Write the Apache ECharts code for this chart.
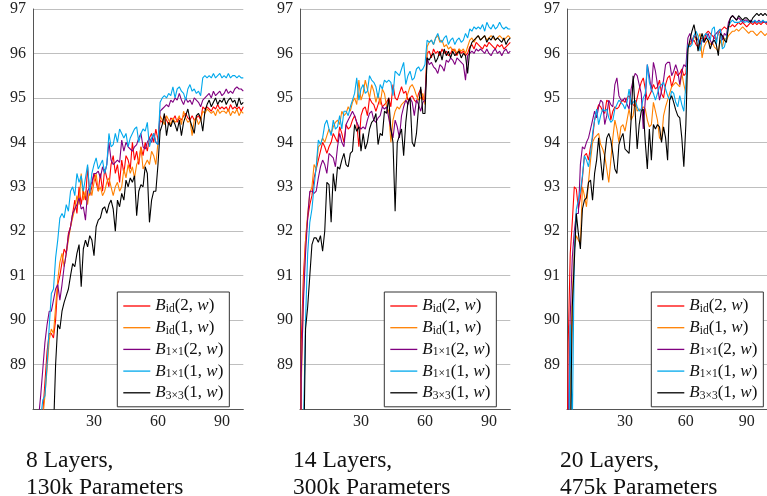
<!DOCTYPE html>
<html><head><meta charset="utf-8">
<script src="https://cdn.jsdelivr.net/npm/echarts@6/dist/echarts.min.js"></script>
<style>html,body{margin:0;padding:0;background:#fff}#c{width:767px;height:496px}</style>
</head><body><div id="c"></div>
<script>
// epochs 1..100 (x positions)
const epochs = Array.from({length: 100}, (_, i) => i + 1);
const seriesNames = ['Bid2', 'Bid1', 'B1x1_2', 'B1x1_1', 'B3x3_1'];
const xTickLabels = [30, 60, 90];
const yTickLabels = [89, 90, 91, 92, 93, 94, 95, 96, 97];
const panelTitles = ['8 Layers,\n130k Parameters', '14 Layers,\n300k Parameters', '20 Layers,\n475k Parameters'];

// ---- Panel 1: 8 layers ----
const p1Bid2 = [80,84,86,87,87.5,87.9,88.6,89.3,89.7,89.7,
 89.6,90.0,90.8,91.0,91.3,91.6,91.5,91.95,92.1,92.4,
 92.7,92.4,93.0,92.6,92.9,92.7,93.45,92.8,93.0,93.3,
 93.1,92.9,93.3,92.9,93.4,93.2,93.0,93.5,93.7,93.3,
 93.5,93.1,93.6,93.3,93.7,93.6,93.4,94.0,93.6,93.8,
 93.5,93.9,93.7,94.0,93.8,94.1,94.2,94.0,94.3,94.05,
 94.5,94.45,94.6,94.5,94.4,94.55,94.5,94.6,94.45,94.55,
 94.5,94.6,94.65,94.55,94.5,94.6,94.5,94.55,94.6,94.5,
 94.8,94.75,94.8,94.75,94.7,94.8,94.75,94.85,94.75,94.8,
 94.75,94.8,94.7,94.85,94.75,94.8,94.75,94.8,94.7,94.8];
const p1Bid1 = [79,83,85.5,86.8,87.4,87.8,88.3,88.9,89.55,89.8,
 89.7,90.3,90.9,91.3,91.5,91.2,91.5,91.8,92.1,92.3,
 92.5,92.8,92.6,93.3,92.7,92.9,92.6,93.0,92.8,93.1,
 93.3,92.9,93.0,92.8,92.9,93.1,93.2,93.0,92.8,93.0,
 93.1,92.9,93.0,93.4,93.2,93.5,93.3,93.45,93.2,93.5,
 93.6,93.9,93.4,93.5,93.6,93.5,93.8,93.7,93.5,94.0,
 94.6,94.5,94.4,94.6,94.5,94.4,94.55,94.45,94.5,94.6,
 94.4,94.7,94.55,94.45,94.5,94.15,94.5,94.55,94.4,94.5,
 94.7,94.65,94.75,94.7,94.65,94.7,94.6,94.75,94.65,94.7,
 94.7,94.65,94.75,94.6,94.7,94.65,94.75,94.6,94.7,94.65];
const p1B1x1_2 = [81,85,87,87.8,88.3,88.9,89.5,89.9,90.2,90.2,
 90.45,90.7,90.8,90.45,90.8,91.2,91.5,91.9,92.1,92.4,
 92.5,92.6,92.75,92.5,92.55,92.25,92.9,93.0,93.1,93.3,
 93.3,93.35,93.2,93.45,93.3,93.5,94.0,93.6,93.5,93.55,
 93.6,93.55,94.05,93.8,94.0,93.9,93.85,93.8,93.9,93.95,
 94.1,94.2,93.9,93.85,94.0,94.1,94.0,94.2,94.0,93.95,
 94.7,94.75,94.8,94.85,94.8,94.95,94.9,95.0,94.95,95.1,
 94.95,94.85,95.0,94.9,94.95,94.85,95.0,94.95,94.9,94.8,
 94.95,95.0,95.05,95.1,95.0,95.15,95.05,95.1,95.15,95.05,
 95.1,95.2,95.1,95.15,95.1,95.2,95.25,95.2,95.2,95.15];
const p1B1x1_1 = [80,84,86,87.2,87.8,88.2,88.3,89.0,89.85,90.6,
 90.7,91.4,91.8,92.3,92.4,92.3,92.6,92.45,92.9,93.0,
 92.8,93.3,93.1,93.25,92.9,93.2,93.5,92.85,93.3,93.5,
 93.65,93.4,93.5,93.6,93.3,93.5,94.2,93.9,93.95,94.2,
 94.0,94.3,94.2,94.1,94.2,93.9,94.1,94.2,94.3,94.35,
 94.0,94.2,94.3,94.25,94.45,93.9,94.1,94.2,94.0,93.95,
 94.9,95.0,95.05,95.0,95.1,95.05,95.25,95.0,95.2,95.25,
 95.15,95.1,94.95,95.2,95.3,95.15,95.2,95.1,95.15,95.05,
 95.45,95.5,95.45,95.5,95.45,95.55,95.45,95.5,95.55,95.45,
 95.5,95.45,95.55,95.45,95.5,95.5,95.45,95.5,95.45,95.45];
const p1B3x3_1 = [70,75,80,83,85,86,86.8,87.2,87.5,87.7,
 87.5,89.0,89.9,89.8,90.2,90.4,90.55,90.7,91.0,91.27,
 91.2,91.5,91.7,90.75,91.6,91.8,91.65,91.9,91.8,91.45,
 92.1,92.25,92.3,92.5,92.55,92.4,92.6,92.7,92.5,92.0,
 92.7,92.55,92.85,92.7,93.15,93.0,93.2,93.1,93.25,92.35,
 92.9,93.05,93.0,93.45,93.3,92.2,92.7,92.9,92.9,93.5,
 94.25,94.4,94.65,94.15,94.45,94.35,94.5,94.4,94.25,94.5,
 94.15,94.45,94.6,94.75,94.5,94.35,94.2,94.6,94.65,94.55,
 94.25,94.7,94.85,94.95,94.8,94.9,95.0,94.85,94.95,94.9,
 95.0,94.85,94.95,95.0,94.9,94.95,94.8,95.0,94.85,94.9];

// ---- Panel 2: 14 layers ----
const p2Bid2 = [80,89.5,91.0,91.8,92.3,92.6,92.8,93.2,93.4,93.6,
 93.8,94.0,93.9,93.75,93.9,94.0,94.2,94.1,94.0,94.35,
 94.2,94.0,94.4,94.3,94.35,94.5,94.6,94.45,93.9,94.6,
 94.75,94.8,94.6,95.0,94.9,94.85,94.7,94.85,95.0,94.8,
 94.85,94.9,95.0,94.8,95.3,95.0,94.95,95.1,95.25,95.1,
 95.15,94.95,95.0,95.05,94.95,94.9,95.1,95.2,94.95,95.0,
 96.0,96.05,95.9,96.1,96.0,96.05,95.95,96.1,96.0,96.05,
 95.95,96.0,96.1,96.05,95.95,96.1,96.0,96.05,95.95,96.0,
 96.15,96.2,96.1,96.25,96.2,96.15,96.1,96.2,96.15,96.25,
 96.2,96.15,96.1,96.2,96.15,96.2,96.1,96.15,96.2,96.25];
const p2Bid1 = [78,88.5,90.6,91.8,92.4,92.85,93.0,93.5,93.4,93.9,
 93.95,94.1,94.0,94.15,94.3,94.2,94.35,94.45,94.5,94.4,
 94.7,94.6,94.65,94.8,94.7,94.9,95.0,94.85,95.4,94.95,
 95.1,95.4,95.2,95.0,95.3,95.15,94.9,95.1,94.85,95.2,
 95.1,94.8,94.7,94.0,94.5,94.7,94.8,94.75,94.85,94.9,
 94.95,95.1,95.25,95.3,95.2,95.05,94.95,95.0,95.1,94.85,
 96.15,96.25,96.3,96.2,96.35,96.4,96.25,96.3,96.15,96.2,
 96.1,96.15,96.05,96.1,96.0,96.1,96.05,96.1,96.0,96.15,
 96.3,96.35,96.25,96.35,96.4,96.3,96.35,96.4,96.3,96.35,
 96.4,96.35,96.3,96.35,96.4,96.35,96.3,96.35,96.4,96.35];
const p2B1x1_2 = [79,88.8,90.4,91.5,92.3,92.9,92.9,92.85,92.9,93.2,
 93.45,93.6,93.5,93.3,93.75,93.7,93.65,93.45,93.9,94.2,
 94.0,93.9,94.4,94.5,94.6,94.7,94.6,94.45,94.35,94.3,
 94.35,94.3,94.5,94.65,94.7,94.5,94.45,94.55,94.6,94.8,
 94.75,94.8,94.55,94.3,94.1,94.5,94.35,94.1,94.6,94.8,
 94.95,94.85,95.0,94.9,94.6,94.95,94.85,94.7,94.9,94.95,
 95.9,95.75,95.8,95.7,95.65,95.55,95.75,95.7,95.6,95.85,
 95.8,95.9,95.85,95.75,95.9,95.85,95.8,95.75,95.4,95.95,
 96.0,96.05,96.0,96.1,96.05,96.1,96.05,96.0,96.1,96.0,
 95.95,96.05,96.1,96.0,96.05,95.95,96.05,96.1,96.0,96.05];
const p2B1x1_1 = [70,80,87.5,90.0,91.5,92.2,92.5,93.0,93.45,94.05,
 93.95,94.1,94.4,94.5,94.3,94.15,94.5,94.3,94.35,94.6,
 94.3,94.7,94.7,94.6,94.8,94.95,95.1,95.45,94.95,95.2,
 95.3,95.1,95.15,95.5,95.4,95.35,95.25,95.0,95.3,95.2,
 95.4,95.35,95.4,95.35,95.05,95.6,95.55,95.5,95.65,95.8,
 95.3,95.5,95.6,95.4,95.45,95.65,95.7,95.6,95.65,95.75,
 96.3,96.25,96.3,96.2,96.35,96.45,96.3,96.25,96.35,96.4,
 96.2,96.3,96.35,96.2,96.3,96.35,96.25,96.3,96.45,96.35,
 96.55,96.5,96.6,96.55,96.6,96.55,96.65,96.5,96.7,96.6,
 96.55,96.65,96.55,96.6,96.7,96.6,96.55,96.6,96.55,96.55];
const p2B3x3_1 = [60,70,86.5,89.8,90.3,91.0,91.7,91.85,91.85,91.75,
 91.9,91.55,92.0,93.1,93.05,92.2,93.3,92.9,93.45,93.4,
 93.6,93.75,93.5,93.45,93.75,93.8,94.4,94.25,94.35,93.8,
 94.2,93.85,94.0,94.3,94.45,94.5,94.65,93.95,94.2,94.15,
 94.7,94.65,95.0,94.3,94.0,92.45,94.0,94.15,94.3,93.7,
 94.45,94.9,95.0,94.0,93.9,94.2,94.8,95.25,94.65,94.65,
 95.9,95.85,95.95,96.0,95.8,95.9,96.05,95.85,96.1,95.95,
 96.05,95.9,96.05,95.95,96.0,96.05,95.9,96.0,95.95,95.55,
 96.1,96.25,96.3,96.35,96.4,96.3,96.35,96.4,96.25,96.35,
 96.3,96.4,96.3,96.35,96.3,96.25,96.35,96.2,96.3,96.35];

// ---- Panel 3: 20 layers ----
const p3Bid2 = [84,89.5,91.5,92.2,93.0,92.95,92.5,92.75,93.2,93.7,
 93.75,93.6,93.9,94.1,94.5,94.7,94.85,94.8,94.7,94.65,
 94.95,94.9,94.5,94.7,94.8,94.75,94.8,94.9,94.95,94.9,
 95.0,95.05,94.95,94.85,94.8,95.0,95.2,95.35,95.45,95.2,
 94.95,95.05,95.15,95.3,95.2,95.25,95.4,95.1,95.0,95.3,
 95.45,95.5,95.25,95.4,95.6,95.5,95.55,95.65,95.5,95.55,
 96.15,96.2,96.25,96.3,96.2,96.15,96.3,96.35,96.3,96.45,
 96.5,96.45,96.4,96.35,96.3,96.45,96.5,96.55,96.6,96.55,
 96.6,96.6,96.65,96.6,96.65,96.7,96.65,96.7,96.65,96.6,
 96.65,96.7,96.65,96.7,96.65,96.7,96.65,96.7,96.7,96.65];
const p3Bid1 = [80,85,88.5,90.5,91.6,91.9,91.8,91.7,93.0,92.8,
 92.55,93.1,93.6,94.0,94.1,94.15,94.2,93.95,93.85,93.7,
 93.4,93.1,93.6,94.1,94.5,94.3,94.0,94.35,94.4,94.25,
 94.5,94.75,94.5,94.6,94.95,94.7,94.75,94.73,94.8,94.75,
 94.5,94.35,94.4,94.9,94.7,94.5,94.1,94.05,94.6,94.8,
 94.95,95.1,95.25,95.3,95.35,95.3,95.25,95.55,95.3,95.1,
 96.15,96.25,96.3,96.4,96.3,96.35,96.45,95.9,96.15,96.25,
 96.3,96.2,96.25,96.15,96.1,96.05,96.3,96.15,96.35,96.3,
 96.4,96.45,96.5,96.5,96.55,96.5,96.55,96.6,96.55,96.5,
 96.45,96.5,96.5,96.45,96.4,96.45,96.5,96.45,96.4,96.45];
const p3B1x1_2 = [82,87.5,90.1,91.4,92.0,92.4,92.4,93.5,93.9,93.85,
 94.0,94.1,94.3,94.5,94.7,94.55,94.8,94.95,94.9,94.4,
 94.6,94.95,94.85,94.8,95.3,95.45,95.05,94.95,94.95,95.0,
 94.85,94.75,95.2,95.4,95.55,95.5,95.3,95.1,94.3,94.95,
 95.75,95.5,95.15,95.8,95.6,95.3,94.95,95.15,95.4,95.75,
 95.8,95.8,95.5,95.6,95.75,95.6,95.3,95.6,95.75,95.7,
 96.35,96.45,96.25,96.4,96.35,96.3,96.2,96.3,96.25,96.35,
 96.45,96.3,96.2,96.4,96.45,96.5,96.55,96.3,96.45,96.4,
 96.7,96.8,96.85,96.8,96.75,96.8,96.75,96.7,96.75,96.75,
 96.7,96.75,96.7,96.72,96.7,96.75,96.7,96.72,96.7,96.7];
const p3B1x1_1 = [80,86,89.9,87.5,91.5,92.5,92.7,92.9,93.25,93.7,
 93.6,93.45,93.75,94.2,94.5,94.75,94.4,94.6,94.75,94.7,
 94.75,94.55,94.45,94.5,94.75,94.85,94.95,94.9,94.85,94.75,
 94.9,95.2,94.85,94.9,94.95,94.8,94.7,94.75,95.0,95.1,
 95.75,95.35,95.2,95.1,94.95,95.1,95.25,95.3,95.35,95.2,
 95.05,94.95,95.15,95.1,94.9,94.8,95.05,94.85,94.7,95.3,
 96.2,96.15,96.2,96.4,96.5,96.4,96.05,96.3,96.4,96.45,
 96.35,96.3,96.55,96.6,96.2,96.5,96.55,96.1,96.15,96.35,
 96.6,96.7,96.75,96.7,96.7,96.7,96.72,96.75,96.7,96.72,
 96.7,96.72,96.7,96.75,96.7,96.72,96.7,96.75,96.7,96.72];
const p3B3x3_1 = [75,80,87,90.3,91.3,92.4,91.95,91.6,92.5,92.7,
 92.75,93.1,93.15,92.7,93.3,93.6,94.1,93.6,93.15,93.7,
 94.1,94.2,94.05,93.75,93.4,93.3,93.95,94.1,94.2,93.85,
 93.8,93.75,94.5,95.5,94.7,93.85,94.4,94.7,94.75,94.0,
 93.4,94.3,93.6,94.4,94.3,94.4,94.35,94.0,94.35,94.1,
 93.6,94.95,95.05,94.9,94.73,94.6,94.55,94.1,93.45,94.4,
 96.1,96.3,96.5,96.65,96.4,96.05,96.3,96.45,96.25,96.35,
 96.3,96.1,96.25,96.3,96.2,95.95,96.45,96.4,96.3,96.25,
 96.6,96.8,96.85,96.8,96.75,96.85,96.8,96.75,96.8,96.8,
 96.75,96.7,96.8,96.85,96.9,96.85,96.9,96.85,96.9,96.85];

const panels = [
  [p1Bid2, p1Bid1, p1B1x1_2, p1B1x1_1, p1B3x3_1],
  [p2Bid2, p2Bid1, p2B1x1_2, p2B1x1_1, p2B3x3_1],
  [p3Bid2, p3Bid1, p3B1x1_2, p3B1x1_1, p3B3x3_1]
];
const colors = ['#ff0000', '#ff8000', '#800080', '#00a8ec', '#000000'];
const legendRich = {
  Bid2: '{b|B}{s|id}{n|(2, }{i|w}{n|)}',
  Bid1: '{b|B}{s|id}{n|(1, }{i|w}{n|)}',
  B1x1_2: '{b|B}{s|1×1}{n|(2, }{i|w}{n|)}',
  B1x1_1: '{b|B}{s|1×1}{n|(1, }{i|w}{n|)}',
  B3x3_1: '{b|B}{s|3×3}{n|(1, }{i|w}{n|)}'
};

const SERIF = '"Liberation Serif", "DejaVu Serif", serif';
const panelLeft = [33, 300, 567];
const grids = [], xAxes = [], yAxes = [], series = [], legends = [], titles = [];
panelLeft.forEach((L, p) => {
  grids.push({left: L, top: 9, width: 210.3, height: 400, containLabel: false});
  xAxes.push({
    type: 'value', gridIndex: p, min: 1.4, max: 100,
    axisLine: {show: true, lineStyle: {color: '#555', width: 1}},
    axisTick: {show: false},
    splitLine: {show: false},
    axisLabel: {customValues: xTickLabels, fontFamily: SERIF, fontSize: 16, color: '#222', margin: 5}
  });
  yAxes.push({
    type: 'value', gridIndex: p, min: 88, max: 97, interval: 1,
    axisLine: {show: true, lineStyle: {color: '#555', width: 1}},
    axisTick: {show: false},
    splitLine: {show: true, lineStyle: {color: '#bfbfbf', width: 1}},
    axisLabel: {customValues: yTickLabels, fontFamily: SERIF, fontSize: 16, color: '#222', margin: 7}
  });
  panels[p].forEach((vals, k) => {
    series.push({
      name: seriesNames[k], type: 'line', xAxisIndex: p, yAxisIndex: p,
      data: epochs.map((e, i) => [e, vals[i]]),
      symbol: 'none', clip: true,
      lineStyle: {color: colors[k], width: 1.1},
      itemStyle: {color: colors[k]},
      emphasis: {disabled: true}, silent: true
    });
  });
  legends.push({
    orient: 'vertical', left: 84.3 + L, top: 292, selectedMode: false,
    data: seriesNames, icon: 'rect', itemWidth: 27, itemHeight: 1.3, itemGap: 3.7,
    padding: [5, 6, 5, 6],
    backgroundColor: '#fff', borderColor: '#333', borderWidth: 1, borderRadius: 0,
    formatter: name => legendRich[name],
    textStyle: {
      fontFamily: SERIF, fontSize: 17, color: '#111', lineHeight: 18,
      rich: {
        b: {fontFamily: SERIF, fontStyle: 'italic', fontSize: 17, lineHeight: 18, color: '#111'},
        i: {fontFamily: SERIF, fontStyle: 'italic', fontSize: 17, lineHeight: 18, color: '#111'},
        n: {fontFamily: SERIF, fontSize: 17, lineHeight: 18, color: '#111'},
        s: {fontFamily: SERIF, fontSize: 11.5, lineHeight: 8, verticalAlign: 'bottom', color: '#111'}
      }
    }
  });
  titles.push({
    text: panelTitles[p], left: L - 7, top: 448, padding: 0,
    textStyle: {fontFamily: SERIF, fontSize: 23.5, fontWeight: 'normal', color: '#111', lineHeight: 26.5}
  });
});

const chart = echarts.init(document.getElementById('c'), null, {renderer: 'canvas'});
chart.setOption({
  animation: false,
  backgroundColor: '#fff',
  title: titles,
  grid: grids, xAxis: xAxes, yAxis: yAxes,
  legend: legends,
  series: series
});
</script></body></html>
